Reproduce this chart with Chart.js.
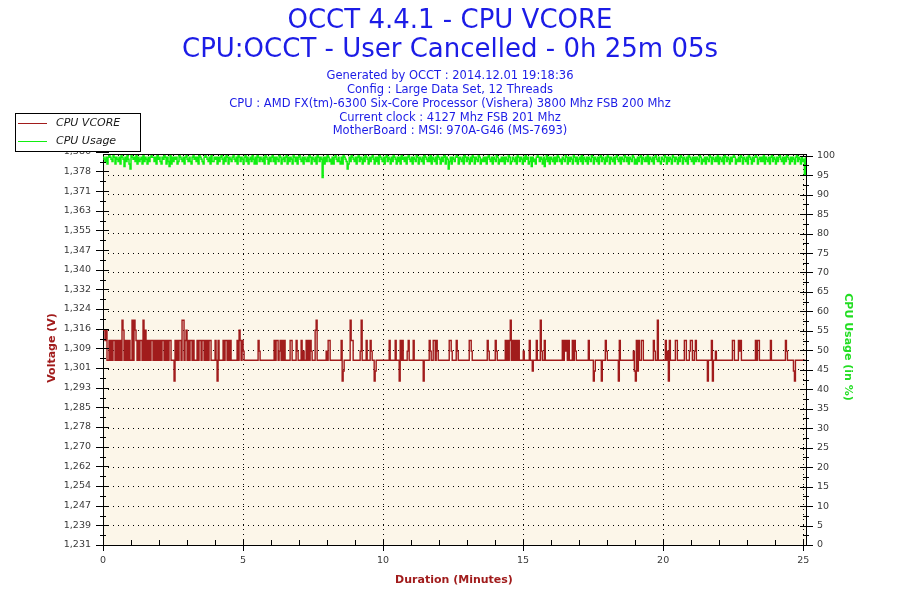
<!DOCTYPE html>
<html>
<head>
<meta charset="utf-8">
<title>OCCT 4.4.1 - CPU VCORE</title>
<script src="https://cdn.jsdelivr.net/npm/chart.js@4.4.1/dist/chart.umd.min.js"></script>
<style>
  html, body { margin: 0; padding: 0; background: #fff; }
  canvas { display: block; }
</style>
</head>
<body>
<canvas id="vcore-chart" width="900" height="600"></canvas>
<script>
const titleLines = ['OCCT 4.4.1 - CPU VCORE', 'CPU:OCCT - User Cancelled - 0h 25m 05s']
const infoLines = [
  'Generated by OCCT : 2014.12.01 19:18:36',
  'Config : Large Data Set, 12 Threads',
  'CPU : AMD FX(tm)-6300 Six-Core Processor (Vishera) 3800 Mhz FSB 200 Mhz',
  'Current clock : 4127 Mhz FSB 201 Mhz',
  'MotherBoard : MSI: 970A-G46 (MS-7693)',
]
const seriesNames = ['CPU VCORE', 'CPU Usage']
const axisTitles = ['Voltage (V)', 'CPU Usage (in %)', 'Duration (Minutes)']

const durationTicks = [0, 5, 10, 15, 20, 25]
const usageTicks = [0, 5, 10, 15, 20, 25, 30, 35, 40, 45, 50, 55, 60, 65, 70, 75, 80, 85, 90, 95, 100]
const voltageTickLabels = ['1,231', '1,239', '1,247', '1,254', '1,262', '1,270', '1,278', '1,285',
  '1,293', '1,301', '1,309', '1,316', '1,324', '1,332', '1,340', '1,347', '1,355', '1,363',
  '1,371', '1,378', '1,386']

const voltMin = 1.2312
const voltStep = 0.00775
const voltMax = 1.3853
const usageMax = 100.44
const durationMax = 25.1
const traceEndMinute = 25.08

// one character per sample
const vcoreLevelCodes = ['a', 'b', '-', 'c', 'd', 'e', 'f']
const vcoreLevelValues = [1.2958, 1.2998, 1.3040, 1.3076, 1.3118, 1.3159, 1.3198]
const vcoreTraceParts = [
  'eede--d-d-dd-d-d-d-fe-d-d-d--f-fed-d-dd-f-e-d-d-dd-d-d-d-d',
  '-dd-d-d-dd---ad-d-dd-ff-de-d-dd-d---d-dd-dd-d-d-dd----d-ad----d-dd-d-d------d-ed-dc-',
  '-------------dc--------------d-dd-cd-d-d-----dd----dc---d-c--d-d-dc---ef---------c-dd-----------dab------fdd-------cf----d---dc--ab-------------',
  'd-----d---ad-d----cd----d---------a-----dc--dd-dc-----------ddc----dc-----------ddc---------------dc------dc--------d-d-df-d-d-d-d----c-----',
  'd--b---d---fc--d-----------------d-dcd-d---d-dc------------d----ab------a---dc-----------ad-------------cbadbd--dd----------dc--f-------d-cad-----',
  'dd-------dd---cdd--cd-----------a---da--c----------------dd----dcd--------------d-dd-----------d--------------dc------ba-----------',
]

const usageLevelCodes = ['1', '2', '4', '5', '6', '7', '8', '9', '0']
const usageLevelValues = [94.4, 95.1, 96.6, 97.2, 97.9, 98.5, 99.1, 99.6, 100]
const usageTraceParts = [
  '98796909870969879609859708640989706978960798697909',
  '97960897698096975069798967098796908797690897960987',
  '69098796077989697908697096987908796097986907968970',
  '86960979879609869790796987096897906979860979690879',
  '69879709698796097981969709786969087976960987469709',
  '87969079869709869790869796098796907986970986979608',
  '97969087969870969879609879706987960986979069847969',
  '87909698796097986970969870968797969087969870968797',
  '96987096798796097986970896795978690979869580796987',
  '96970978698709697986097968970698796987096987969079',
  '86970969879690879698709796987096869790698797069879',
  '69087976987096979860979869709698796098796979870968',
  '79698709698797069879609798697909687970969879609869',
  '79096897970698796907986979087969709869798690798697',
  '829',
]

const vcoreColor = '#a11c1c'
const usageColor = '#11ee11'
const titleColor = '#1c1ce6'
const plotBackground = '#fcf6e9'

function buildPoints (parts, codes, values) {
  const trace = parts.join('')
  const points = []
  for (let i = 0; i < trace.length; i++) {
    const level = codes.indexOf(trace[i])
    points.push({ x: i * traceEndMinute / (trace.length - 1), y: values[level] })
  }
  return points
}

const vcorePoints = buildPoints(vcoreTraceParts, vcoreLevelCodes, vcoreLevelValues)
const usagePoints = buildPoints(usageTraceParts, usageLevelCodes, usageLevelValues)

function strokeLine (ctx, x1, y1, x2, y2) {
  ctx.beginPath()
  ctx.moveTo(x1, y1)
  ctx.lineTo(x2, y2)
  ctx.stroke()
}

function px (v) {
  return Math.round(v) + 0.5
}

const occtDecor = {
  id: 'occtDecor',
  beforeDraw (chart) {
    const { ctx, chartArea: a } = chart
    ctx.save()
    ctx.fillStyle = '#fff'
    ctx.fillRect(0, 0, chart.width, chart.height)
    ctx.fillStyle = plotBackground
    ctx.fillRect(a.left, a.top, a.right - a.left, a.bottom - a.top)
    ctx.restore()
  },
  afterDraw (chart) {
    const { ctx, chartArea: a } = chart
    const volt = chart.scales.volt
    const usage = chart.scales.usage
    const x = chart.scales.x
    ctx.save()
    ctx.strokeStyle = '#000'
    ctx.lineWidth = 1
    strokeLine(ctx, a.left, px(a.top), a.right + 1, px(a.top))

    // tick marks crossing the axes
    for (let k = 0; k < volt.ticks.length; k++) {
      const y = px(volt.getPixelForValue(volt.ticks[k].value))
      strokeLine(ctx, a.left - 7, y, a.left + 6, y)
      if (k > 0) {
        const ym = px(volt.getPixelForValue(volt.ticks[k].value - voltStep / 2))
        strokeLine(ctx, a.left - 3, ym, a.left + 3, ym)
      }
    }
    for (let k = 0; k < usageTicks.length; k++) {
      const y = px(usage.getPixelForValue(usageTicks[k]))
      strokeLine(ctx, a.right - 6, y, a.right + 7, y)
      if (k > 0) {
        const ym = px(usage.getPixelForValue(usageTicks[k] - 2.5))
        strokeLine(ctx, a.right - 3, ym, a.right + 3, ym)
      }
    }
    for (let m = 0; m <= 25; m++) {
      const xx = px(x.getPixelForValue(m))
      if (durationTicks.includes(m)) {
        strokeLine(ctx, xx, a.bottom - 6, xx, a.bottom + 6)
      } else {
        strokeLine(ctx, xx, a.bottom - 5, xx, a.bottom)
      }
    }

    // titles
    ctx.textAlign = 'center'
    ctx.textBaseline = 'middle'
    ctx.fillStyle = titleColor
    ctx.font = '26px "DejaVu Sans"'
    ctx.fillText(titleLines[0], 450, 21)
    ctx.fillText(titleLines[1], 450, 50)
    ctx.font = '11.5px "DejaVu Sans"'
    const infoY = [76, 90, 104, 118, 131.5]
    for (let i = 0; i < infoLines.length; i++) {
      ctx.fillText(infoLines[i], 450, infoY[i])
    }

    // axis titles
    ctx.font = 'bold 11px "DejaVu Sans"'
    ctx.fillStyle = vcoreColor
    ctx.fillText(axisTitles[2], 454, 580)
    ctx.save()
    ctx.translate(52, 348)
    ctx.rotate(-Math.PI / 2)
    ctx.fillText(axisTitles[0], 0, 0)
    ctx.restore()
    ctx.save()
    ctx.fillStyle = '#22dd22'
    ctx.translate(848, 347)
    ctx.rotate(Math.PI / 2)
    ctx.fillText(axisTitles[1], 0, 0)
    ctx.restore()

    // legend box
    ctx.fillStyle = '#fff'
    ctx.fillRect(15, 113, 126, 39)
    ctx.strokeStyle = '#000'
    ctx.strokeRect(15.5, 113.5, 125, 38)
    const rowY = [123.5, 141.5]
    const rowColors = [vcoreColor, usageColor]
    ctx.textAlign = 'left'
    ctx.font = 'italic 11px "DejaVu Sans"'
    for (let i = 0; i < seriesNames.length; i++) {
      ctx.strokeStyle = rowColors[i]
      strokeLine(ctx, 18, rowY[i], 47, rowY[i])
      ctx.fillStyle = '#1a1a1a'
      ctx.fillText(seriesNames[i], 56, rowY[i])
    }
    ctx.restore()
  },
}

const tickFont = { family: 'DejaVu Sans', size: 9.5 }
const tickColor = '#3a3a3a'

const config = {
  type: 'line',
  data: {
    datasets: [
      {
        label: seriesNames[1],
        data: usagePoints,
        yAxisID: 'usage',
        borderColor: usageColor,
        borderWidth: 1.5,
        pointRadius: 0,
        stepped: true,
        fill: false,
      },
      {
        label: seriesNames[0],
        data: vcorePoints,
        yAxisID: 'volt',
        borderColor: vcoreColor,
        borderWidth: 1.4,
        pointRadius: 0,
        stepped: true,
        fill: false,
      },
    ],
  },
  options: {
    responsive: false,
    animation: false,
    devicePixelRatio: 1,
    parsing: false,
    layout: {
      padding: { top: 154, left: 0, right: 0, bottom: 0 },
    },
    plugins: {
      legend: { display: false },
      title: { display: false },
      tooltip: { enabled: false },
    },
    scales: {
      x: {
        type: 'linear',
        position: 'bottom',
        min: 0,
        max: durationMax,
        afterBuildTicks: function (scale) {
          scale.ticks = durationTicks.map(v => ({ value: v }))
        },
        afterFit: function (scale) {
          scale.height = 55
        },
        ticks: {
          autoSkip: false,
          maxRotation: 0,
          padding: 10,
          font: tickFont,
          color: tickColor,
        },
        grid: {
          drawTicks: false,
          color: '#000',
          lineWidth: 1,
        },
        border: {
          color: '#000',
          width: 1,
          dash: [1, 4],
        },
      },
      volt: {
        type: 'linear',
        position: 'left',
        min: voltMin,
        max: voltMax,
        afterBuildTicks: function (scale) {
          scale.ticks = voltageTickLabels.map((label, k) => ({ value: voltMin + k * voltStep }))
        },
        afterFit: function (scale) {
          scale.width = 103
        },
        ticks: {
          autoSkip: false,
          padding: 12,
          font: tickFont,
          color: tickColor,
          callback: function (value, index) {
            return voltageTickLabels[index]
          },
        },
        grid: {
          drawTicks: false,
          drawOnChartArea: false,
        },
        border: {
          color: '#000',
          width: 1,
        },
      },
      usage: {
        type: 'linear',
        position: 'right',
        min: 0,
        max: usageMax,
        afterBuildTicks: function (scale) {
          scale.ticks = usageTicks.map(v => ({ value: v }))
        },
        afterFit: function (scale) {
          scale.width = 94
        },
        ticks: {
          autoSkip: false,
          padding: 11,
          font: tickFont,
          color: tickColor,
          callback: function (value) {
            return String(value)
          },
        },
        grid: {
          drawTicks: false,
          color: '#000',
          lineWidth: 1,
        },
        border: {
          color: '#000',
          width: 1,
          dash: [1, 4],
        },
      },
    },
  },
  plugins: [occtDecor],
}

const ctx = document.getElementById('vcore-chart').getContext('2d')
const vcoreChart = new Chart(ctx, config)
</script>
</body>
</html>
